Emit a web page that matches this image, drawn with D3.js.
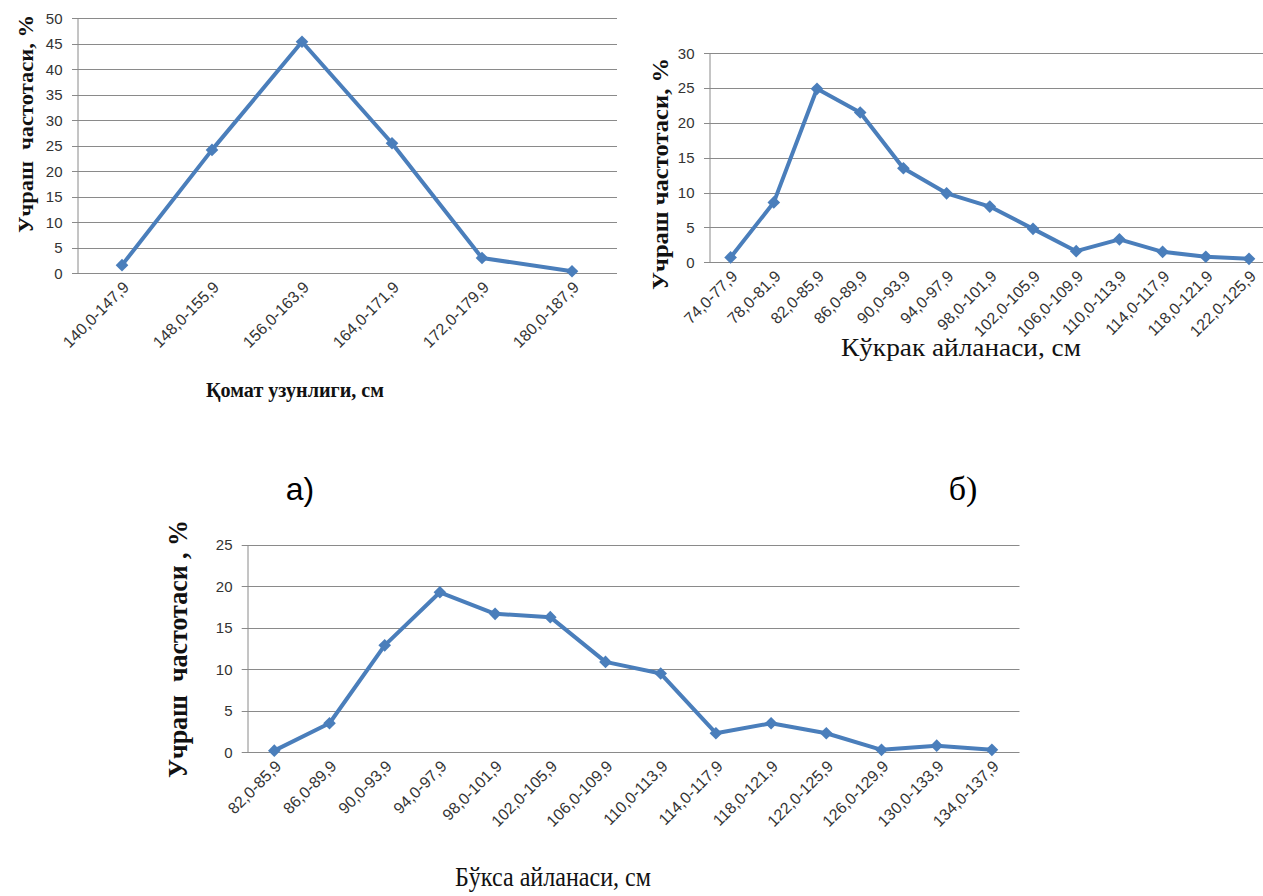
<!DOCTYPE html>
<html lang="uz">
<head>
<meta charset="utf-8">
<title>Учраш частотаси</title>
<script src="https://d3js.org/d3.v7.min.js"></script>
<style>
  body { margin: 0; background: #fff; }
  svg { display: block; }
</style>
</head>
<body>
<script>
// a) Қомат узунлиги
var heightCats = ["140,0-147,9", "148,0-155,9", "156,0-163,9", "164,0-171,9", "172,0-179,9", "180,0-187,9"];
var heightVals = [1.6, 24.2, 45.4, 25.5, 3.0, 0.4];
var heightTicks = [0, 5, 10, 15, 20, 25, 30, 35, 40, 45, 50];

// б) Кўкрак айланаси
var chestCats = ["74,0-77,9", "78,0-81,9", "82,0-85,9", "86,0-89,9", "90,0-93,9", "94,0-97,9", "98,0-101,9",
                 "102,0-105,9", "106,0-109,9", "110,0-113,9", "114,0-117,9", "118,0-121,9", "122,0-125,9"];
var chestVals = [0.7, 8.6, 24.9, 21.5, 13.5, 9.9, 8.0, 4.8, 1.6, 3.3, 1.5, 0.8, 0.5];
var chestTicks = [0, 5, 10, 15, 20, 25, 30];

// в) Бўкса айланаси
var hipCats = ["82,0-85,9", "86,0-89,9", "90,0-93,9", "94,0-97,9", "98,0-101,9", "102,0-105,9", "106,0-109,9",
               "110,0-113,9", "114,0-117,9", "118,0-121,9", "122,0-125,9", "126,0-129,9", "130,0-133,9", "134,0-137,9"];
var hipVals = [0.2, 3.5, 12.9, 19.3, 16.7, 16.3, 10.9, 9.5, 2.3, 3.5, 2.3, 0.3, 0.8, 0.3];
var hipTicks = [0, 5, 10, 15, 20, 25];

var w = 1263, h = 896;
var lineColor = "#4a7ebb";
var gridColor = "#8a8a8a";
var sansFont = "'Liberation Sans', Arial, sans-serif";
var serifFont = "'Liberation Serif', 'Times New Roman', serif";

var svg = d3.select("body").append("svg")
    .attr("width", w)
    .attr("height", h)
    .style("background", "#fff");

function drawChart(c) {
    var g = svg.append("g");

    var x = d3.scaleBand()
        .domain(c.cats)
        .range([c.left, c.right])
        .padding(0);

    var y = d3.scaleLinear()
        .domain([0, d3.max(c.ticks)])
        .range([c.bottom, c.top]);

    // gridlines (they stick out a little left of the axis, like ticks)
    g.selectAll("line.grid")
        .data(c.ticks)
        .enter().append("line")
        .attr("class", "grid")
        .attr("x1", c.left - 5)
        .attr("x2", c.right)
        .attr("y1", function(d) { return Math.round(y(d)) + 0.5; })
        .attr("y2", function(d) { return Math.round(y(d)) + 0.5; })
        .attr("stroke", gridColor)
        .attr("stroke-width", 1);

    // y axis
    var yAxis = g.append("g")
        .attr("transform", "translate(" + (Math.round(c.left) + 0.5) + ",0)")
        .call(d3.axisLeft(y).tickValues(c.ticks).tickSize(0).tickPadding(15));
    yAxis.select(".domain").attr("stroke", gridColor);
    yAxis.selectAll("text")
        .attr("font-family", sansFont)
        .attr("font-size", "15px")
        .attr("fill", "#333");

    // x axis labels
    var xAxis = g.append("g")
        .attr("transform", "translate(0," + c.bottom + ")")
        .call(d3.axisBottom(x).tickSize(0));
    xAxis.select(".domain").remove();
    xAxis.selectAll("text")
        .attr("x", 0)
        .attr("y", 0)
        .attr("dy", null)
        .attr("text-anchor", "end")
        .attr("transform", "translate(8,15) rotate(-45)")
        .attr("font-family", sansFont)
        .attr("font-size", "16px")
        .attr("fill", "#333");

    // the series line
    var line = d3.line()
        .x(function(d, i) { return x(c.cats[i]) + x.bandwidth() / 2; })
        .y(function(d) { return y(d); });

    g.append("path")
        .datum(c.vals)
        .attr("d", line)
        .attr("fill", "none")
        .attr("stroke", lineColor)
        .attr("stroke-width", 4)
        .attr("stroke-linejoin", "round");

    // diamond markers
    g.selectAll("path.mark")
        .data(c.vals)
        .enter().append("path")
        .attr("class", "mark")
        .attr("d", d3.symbol().type(d3.symbolSquare).size(80))
        .attr("transform", function(d, i) {
            return "translate(" + (x(c.cats[i]) + x.bandwidth() / 2) + "," + y(d) + ") rotate(45)";
        })
        .attr("fill", lineColor);

    // y title
    g.append("text")
        .attr("transform", "translate(" + c.yTitleX + "," + c.yTitleY + ") rotate(-90)")
        .attr("text-anchor", "middle")
        .attr("font-family", serifFont)
        .attr("font-weight", "bold")
        .attr("font-size", c.yTitleSize + "px")
        .attr("textLength", c.yTitleLen)
        .attr("lengthAdjust", "spacingAndGlyphs")
        .attr("fill", "#111")
        .style("white-space", "pre")
        .text(c.yTitle);

    // x title
    g.append("text")
        .attr("x", c.xTitleX)
        .attr("y", c.xTitleY)
        .attr("text-anchor", "middle")
        .attr("font-family", serifFont)
        .attr("font-weight", c.xTitleBold ? "bold" : "normal")
        .attr("font-size", c.xTitleSize + "px")
        .attr("textLength", c.xTitleLen)
        .attr("lengthAdjust", "spacingAndGlyphs")
        .attr("fill", "#111")
        .text(c.xTitle);
}

drawChart({
    cats: heightCats, vals: heightVals, ticks: heightTicks,
    left: 77, right: 617, top: 18.3, bottom: 273.3,
    yTitle: "Учраш  частотаси, %", yTitleX: 33, yTitleY: 124, yTitleLen: 218, yTitleSize: 22,
    xTitle: "Қомат узунлиги, см", xTitleX: 295, xTitleY: 397, xTitleSize: 21, xTitleBold: true, xTitleLen: 178
});

drawChart({
    cats: chestCats, vals: chestVals, ticks: chestTicks,
    left: 709, right: 709 + 13 * 43.2, top: 53.3, bottom: 262.3,
    yTitle: "Учраш частотаси, %", yTitleX: 668, yTitleY: 174, yTitleLen: 232, yTitleSize: 24,
    xTitle: "Кўкрак айланаси, см", xTitleX: 961, xTitleY: 356, xTitleSize: 25, xTitleBold: false, xTitleLen: 240
});

drawChart({
    cats: hipCats, vals: hipVals, ticks: hipTicks,
    left: 246.7, right: 1019.5, top: 545, bottom: 752.3,
    yTitle: "Учраш  частотаси , %", yTitleX: 187, yTitleY: 649, yTitleLen: 258, yTitleSize: 27,
    xTitle: "Бўкса айланаси, см", xTitleX: 553, xTitleY: 886, xTitleSize: 27, xTitleBold: false, xTitleLen: 196
});

// panel letters
svg.append("text")
    .attr("x", 300).attr("y", 500)
    .attr("text-anchor", "middle")
    .attr("font-family", sansFont)
    .attr("font-size", "32px")
    .attr("fill", "#000")
    .text("а)");

svg.append("text")
    .attr("x", 963).attr("y", 500)
    .attr("text-anchor", "middle")
    .attr("font-family", serifFont)
    .attr("font-size", "34px")
    .attr("fill", "#000")
    .text("б)");
</script>
</body>
</html>
